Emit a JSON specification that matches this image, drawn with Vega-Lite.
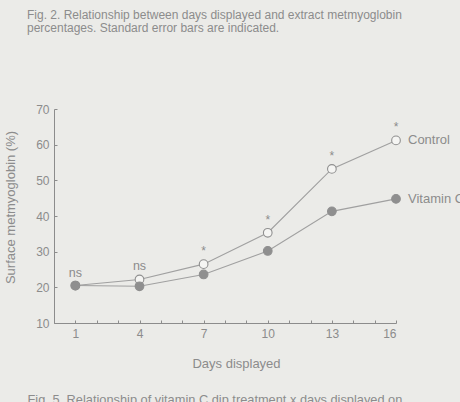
{
  "$schema": "https://vega.github.io/schema/vega-lite/v6.json",
  "width": 342,
  "height": 214,
  "autosize": "none",
  "padding": {"left": 54, "top": 109, "right": 64, "bottom": 79},
  "background": "#ebebe8",
  "config": {
    "view": {"stroke": null},
    "font": "Liberation Sans",
    "axis": {"grid": false, "domainColor": "#8c8c8c", "tickColor": "#8c8c8c", "labelColor": "#8c8c8c", "titleColor": "#8c8c8c", "labelFont": "Liberation Sans", "titleFont": "Liberation Sans", "titleFontWeight": "normal", "labelFontSize": 12, "titleFontSize": 13, "labelOverlap": false}
  },
  "title": {
    "text": ["Fig. 2. Relationship between days displayed and extract metmyoglobin", "percentages. Standard error bars are indicated."],
    "anchor": "start", "frame": "group", "orient": "top", "dx": -27, "offset": 68,
    "fontSize": 12, "font": "Liberation Sans", "fontWeight": "normal", "color": "#8c8c8c", "lineHeight": 13
  },
  "datasets": {
    "points": [
      {"day": 1, "treatment": "Control", "value": 20.5},
      {"day": 4, "treatment": "Control", "value": 22.2},
      {"day": 7, "treatment": "Control", "value": 26.5},
      {"day": 10, "treatment": "Control", "value": 35.3},
      {"day": 13, "treatment": "Control", "value": 53.2},
      {"day": 16, "treatment": "Control", "value": 61.2},
      {"day": 1, "treatment": "Vitamin C", "value": 20.5},
      {"day": 4, "treatment": "Vitamin C", "value": 20.3},
      {"day": 7, "treatment": "Vitamin C", "value": 23.6},
      {"day": 10, "treatment": "Vitamin C", "value": 30.2},
      {"day": 13, "treatment": "Vitamin C", "value": 41.3},
      {"day": 16, "treatment": "Vitamin C", "value": 44.8}
    ],
    "notes": [
      {"day": 1, "value": 20.5, "note": "ns"},
      {"day": 4, "value": 22.2, "note": "ns"},
      {"day": 7, "value": 26.5, "note": "*"},
      {"day": 10, "value": 35.3, "note": "*"},
      {"day": 13, "value": 53.2, "note": "*"},
      {"day": 16, "value": 61.2, "note": "*"}
    ]
  },
  "layer": [
    {
      "data": {"name": "points"},
      "encoding": {
        "x": {"field": "day", "type": "quantitative", "scale": {"domain": [0, 16], "nice": false, "zero": false},
          "axis": {"values": [0,1,2,3,4,5,6,7,8,9,10,11,12,13,14,15,16], "labelExpr": "datum.value % 3 == 1 ? datum.label : ''", "tickSize": -3, "labelPadding": 8, "title": "Days displayed", "titleX": 182, "titleY": 40, "titleBaseline": "middle"}},
        "y": {"field": "value", "type": "quantitative", "scale": {"domain": [10, 70], "nice": false, "zero": false},
          "axis": {"values": [10,20,30,40,50,60,70], "labelOverlap": false, "labelSeparation": 0, "tickSize": -3, "labelPadding": 8, "title": "Surface metmyoglobin (%)", "titleX": -44, "titleY": 98, "titleBaseline": "middle"}}
      },
      "layer": [
        {"mark": {"type": "line", "color": "#a0a0a0", "strokeWidth": 1.1}, "encoding": {"detail": {"field": "treatment"}}},
        {"mark": {"type": "point", "shape": "circle", "filled": true, "size": 75, "stroke": "#8f8f8f", "strokeWidth": 1.1, "opacity": 1},
          "encoding": {"fill": {"field": "treatment", "type": "nominal", "scale": {"domain": ["Control", "Vitamin C"], "range": ["#f5f5f3", "#8f8f8f"]}, "legend": null}}},
        {"transform": [{"filter": "datum.day == 16"}],
          "mark": {"type": "text", "align": "left", "baseline": "middle", "dx": 12, "fontSize": 13, "color": "#8c8c8c", "font": "Liberation Sans"},
          "encoding": {"text": {"field": "treatment"}}}
      ]
    },
    {
      "data": {"name": "notes"},
      "mark": {"type": "text", "baseline": "middle", "color": "#8c8c8c", "font": "Liberation Sans"},
      "encoding": {
        "x": {"field": "day", "type": "quantitative", "scale": {"domain": [0, 16], "nice": false, "zero": false},
          "axis": {"orient": "bottom", "domain": false, "ticks": false, "labels": false, "title": "Fig. 5. Relationship of vitamin C dip treatment x days displayed on", "titleX": -27, "titleY": 76, "titleAlign": "left", "titleBaseline": "middle", "titleFontSize": 12.8}},
        "y": {"field": "value", "type": "quantitative",
          "axis": {"values": [10,20,30,40,50,60,70], "labelOverlap": false, "labelSeparation": 0, "tickSize": -3, "labelPadding": 8, "title": "Surface metmyoglobin (%)", "titleX": -44, "titleY": 98, "titleBaseline": "middle"}},
        "text": {"field": "note"},
        "size": {"condition": {"test": "datum.note == '*'", "value": 12}, "value": 12.5},
        "yOffset": {"condition": {"test": "datum.note == '*'", "value": -7}, "value": -13}
      }
    }
  ],
  "resolve": {"scale": {"x": "independent"}}
}
